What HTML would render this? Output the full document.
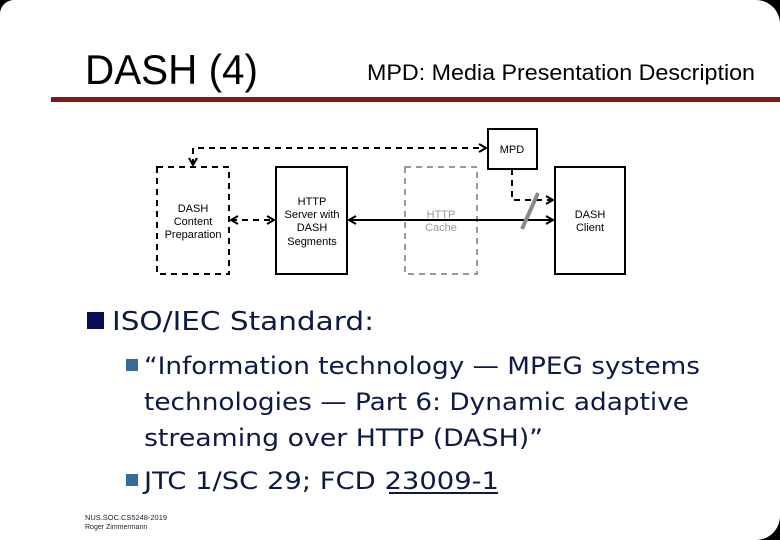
<!DOCTYPE html>
<html><head><style>body{margin:0;background:#fff}svg{display:block}</style></head><body>
<svg width="780" height="540" viewBox="0 0 780 540" xmlns="http://www.w3.org/2000/svg">
<rect x="0" y="0" width="780" height="540" fill="#fff"/>
<path d="M0,0 L14,0 A14,14 0 0 0 0,14 Z" fill="#000"/>
<path d="M780,0 L756,0 A24,24 0 0 1 780,24 Z" fill="#000"/>
<path d="M780,540 L756,540 A24,24 0 0 0 780,516 Z" fill="#000"/>
<text x="85" y="84" font-family="Liberation Sans, sans-serif" font-size="42" textLength="173" lengthAdjust="spacingAndGlyphs" fill="#000">DASH (4)</text>
<text x="367" y="80" font-family="Liberation Sans, sans-serif" font-size="22" textLength="388" lengthAdjust="spacingAndGlyphs" fill="#000">MPD: Media Presentation Description</text>
<rect x="51" y="97" width="729" height="5" fill="#7f1a1a"/>
<defs><marker id="a" markerWidth="10" markerHeight="10" refX="8" refY="5" orient="auto-start-reverse" markerUnits="userSpaceOnUse"><path d="M1,1 L8,5 L1,9" fill="none" stroke="#000" stroke-width="2"/></marker></defs>
<g font-family="Liberation Sans, sans-serif" font-size="11" text-anchor="middle">
<rect x="157" y="167" width="72" height="107" fill="none" stroke="#000" stroke-width="2" stroke-dasharray="6,5"/>
<text x="193" y="212">DASH</text><text x="193" y="225">Content</text><text x="193" y="238">Preparation</text>
<rect x="276" y="167" width="71" height="107" fill="none" stroke="#000" stroke-width="2"/>
<text x="312" y="205">HTTP</text><text x="312" y="218">Server with</text><text x="312" y="231">DASH</text><text x="312" y="245">Segments</text>
<rect x="405" y="167" width="72" height="107" fill="none" stroke="#999" stroke-width="2" stroke-dasharray="6,5"/>
<text x="441" y="218" fill="#999">HTTP</text><text x="441" y="231" fill="#999">Cache</text>
<rect x="488" y="129" width="49" height="40" fill="none" stroke="#000" stroke-width="2"/>
<text x="512" y="153">MPD</text>
<rect x="555" y="167" width="70" height="107" fill="none" stroke="#000" stroke-width="2"/>
<text x="590" y="218">DASH</text><text x="590" y="231">Client</text>
</g>
<g stroke="#000" stroke-width="2" fill="none">
<path d="M193,165 L193,148 L486,148" stroke-dasharray="6,5" marker-start="url(#a)" marker-end="url(#a)"/>
<path d="M231,220 L274,220" stroke-dasharray="6,5" marker-start="url(#a)" marker-end="url(#a)"/>
<path d="M349,220 L553,220" marker-start="url(#a)" marker-end="url(#a)"/>
<path d="M512,169 L512,200 L553,200" stroke-dasharray="6,5" marker-end="url(#a)"/>
</g>
<line x1="522" y1="229" x2="538" y2="193" stroke="#888" stroke-width="4"/>
<g font-family="DejaVu Sans, sans-serif" fill="#0d1a45">
<rect x="87" y="312" width="17" height="17" fill="#0b0b5a"/>
<text x="112" y="330" font-size="26" textLength="262" lengthAdjust="spacingAndGlyphs">ISO/IEC Standard:</text>
<rect x="126" y="359" width="12" height="12" fill="#3a6a9a"/>
<text x="144" y="374" font-size="24" textLength="556" lengthAdjust="spacingAndGlyphs">“Information technology — MPEG systems</text>
<text x="144" y="410" font-size="24" textLength="545" lengthAdjust="spacingAndGlyphs">technologies — Part 6: Dynamic adaptive</text>
<text x="144" y="446" font-size="24" textLength="399" lengthAdjust="spacingAndGlyphs">streaming over HTTP (DASH)”</text>
<rect x="126" y="474" width="12" height="12" fill="#3a6a9a"/>
<text x="144" y="489" font-size="24" textLength="355" lengthAdjust="spacingAndGlyphs">JTC 1/SC 29; FCD 23009-1</text>
<rect x="389" y="492" width="109" height="2" fill="#0d1a45"/>
</g>
<g font-family="Liberation Sans, sans-serif" font-size="7" fill="#223">
<text x="85" y="520" textLength="82" lengthAdjust="spacingAndGlyphs">NUS.SOC.CS5248-2019</text>
<text x="85" y="529">Roger Zimmermann</text>
</g>
</svg>
</body></html>
